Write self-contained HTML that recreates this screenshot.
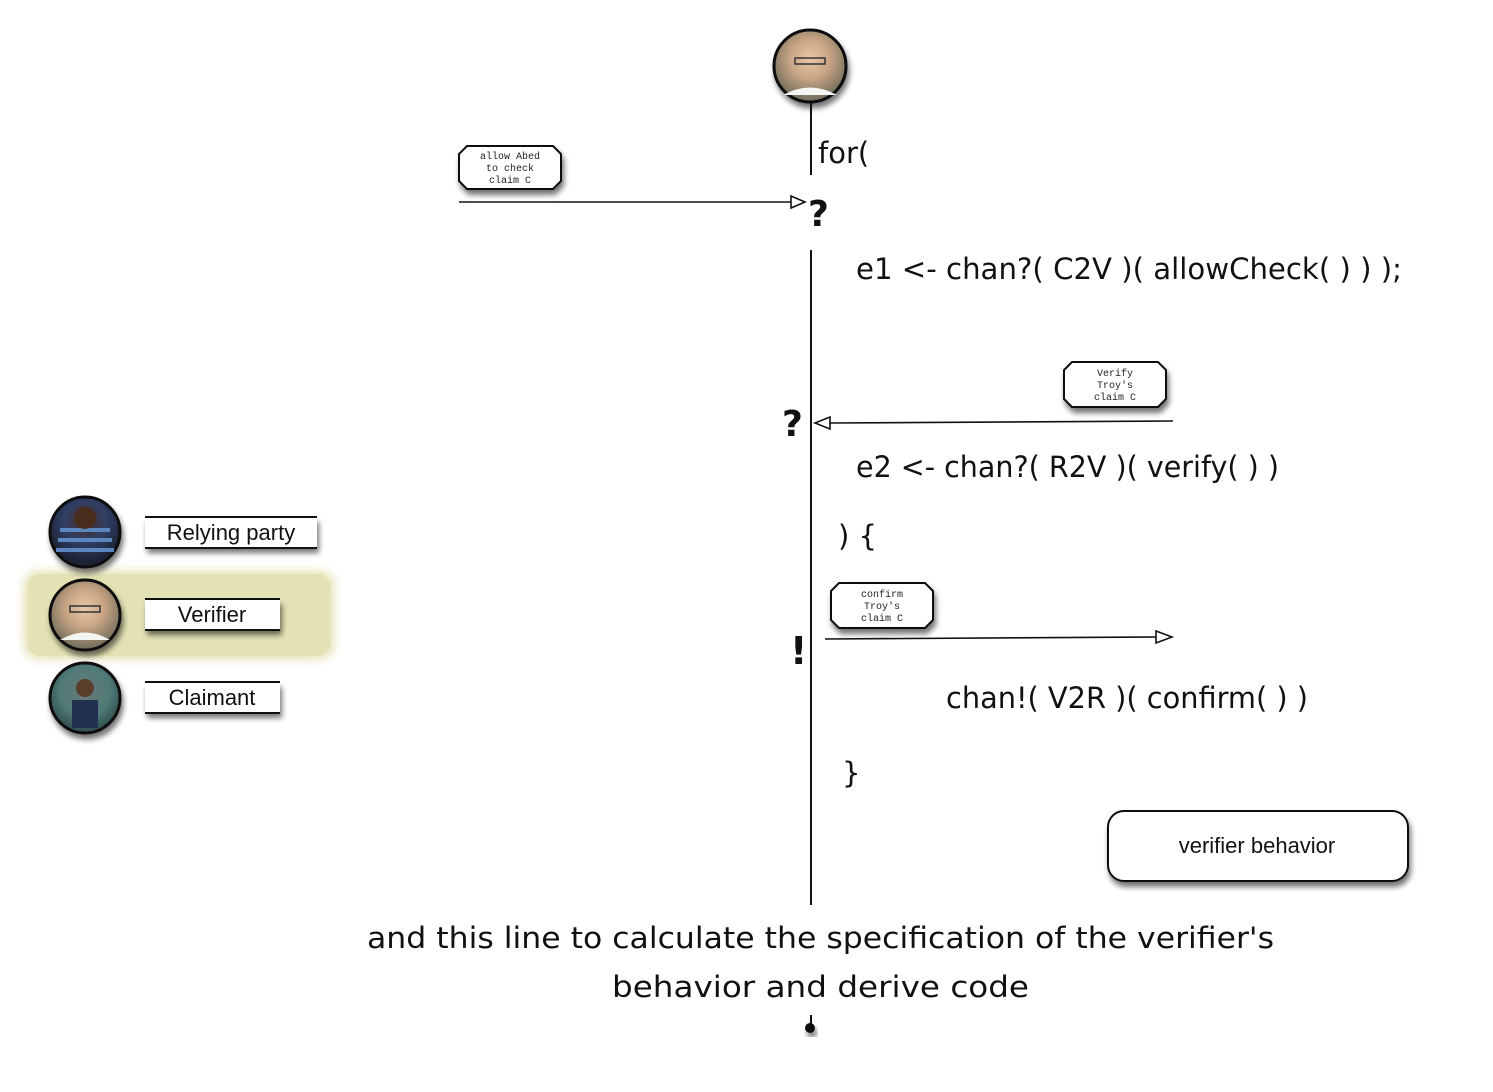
<!DOCTYPE html>
<html><head><meta charset="utf-8">
<style>
html,body{margin:0;padding:0;background:#fff;}
svg{display:block;}
.code{font-family:"DejaVu Sans","Liberation Sans",sans-serif;font-size:29px;fill:#111;}
.mono{font-family:"Liberation Mono",monospace;font-size:10px;fill:#222;}
.lab{font-family:"Liberation Sans",sans-serif;font-size:22px;fill:#111;}
</style></head>
<body>
<svg width="1493" height="1092" viewBox="0 0 1493 1092" xmlns="http://www.w3.org/2000/svg">
<defs>
  <filter id="sh" x="-30%" y="-30%" width="160%" height="170%">
    <feGaussianBlur in="SourceAlpha" stdDeviation="3"/>
    <feOffset dx="2" dy="5" result="o"/>
    <feComponentTransfer><feFuncA type="linear" slope="0.55"/></feComponentTransfer>
    <feMerge><feMergeNode/><feMergeNode in="SourceGraphic"/></feMerge>
  </filter>
  <filter id="blur"><feGaussianBlur stdDeviation="5"/></filter>
  <radialGradient id="face" cx="50%" cy="40%" r="60%">
    <stop offset="0" stop-color="#e8c8a8"/><stop offset="0.45" stop-color="#c9a684"/><stop offset="1" stop-color="#6d6a5a"/>
  </radialGradient>
  <radialGradient id="troy" cx="50%" cy="35%" r="60%">
    <stop offset="0" stop-color="#4a2c20"/><stop offset="0.5" stop-color="#2f3f66"/><stop offset="1" stop-color="#1c2030"/>
  </radialGradient>
  <radialGradient id="abed" cx="50%" cy="40%" r="60%">
    <stop offset="0" stop-color="#6a7a78"/><stop offset="0.6" stop-color="#4f7a78"/><stop offset="1" stop-color="#2f4a4a"/>
  </radialGradient>
</defs>

<!-- legend highlight -->
<rect x="24" y="571" width="310" height="88" rx="14" fill="#e4e2b4" filter="url(#blur)"/>
<rect x="28" y="574" width="302" height="82" rx="12" fill="#e4e2b4"/>

<!-- legend avatars -->
<g filter="url(#sh)">
  <circle cx="85" cy="532" r="35" fill="url(#troy)" stroke="#111" stroke-width="3"/>
  <circle cx="85" cy="615" r="35" fill="url(#face)" stroke="#111" stroke-width="3"/>
  <circle cx="85" cy="698" r="35" fill="url(#abed)" stroke="#111" stroke-width="3"/>
</g>
<!-- simple details -->
<path d="M58 540 h54 M56 550 h58 M60 530 h50" stroke="#5b86c0" stroke-width="4"/>
<circle cx="85" cy="518" r="11" fill="#4a2c1c"/>
<rect x="70" y="606" width="30" height="6" fill="none" stroke="#333" stroke-width="1.5"/>
<path d="M60 640 Q85 625 110 640" fill="#f4f4f0"/>
<rect x="72" y="700" width="26" height="28" fill="#223050"/>
<circle cx="85" cy="688" r="9" fill="#5a3e2c"/>

<!-- legend labels -->
<g filter="url(#sh)">
  <rect x="145" y="517" width="172" height="31" fill="#fff"/>
  <rect x="145" y="599" width="135" height="31" fill="#fff"/>
  <rect x="145" y="682" width="135" height="31" fill="#fff"/>
</g>
<path d="M145 517h172M145 548h172M145 599h135M145 630h135M145 682h135M145 713h135" stroke="#111" stroke-width="2"/>
<text class="lab" x="231" y="540" text-anchor="middle">Relying party</text>
<text class="lab" x="212" y="622" text-anchor="middle">Verifier</text>
<text class="lab" x="212" y="705" text-anchor="middle">Claimant</text>

<!-- top avatar -->
<circle cx="810" cy="66" r="36" fill="url(#face)" stroke="#111" stroke-width="3" filter="url(#sh)"/>
<rect x="795" y="58" width="30" height="6" fill="none" stroke="#333" stroke-width="1.5"/>
<path d="M783 95 Q810 80 837 95" fill="#f4f4f0"/>

<!-- lifeline -->
<path d="M811 102V175M811 250V905M811 1015V1026" stroke="#111" stroke-width="2"/>
<circle cx="810" cy="1028" r="5" fill="#111" filter="url(#sh)"/>

<text class="code" x="818" y="163">for(</text>
<text x="808" y="226" font-family="DejaVu Sans,sans-serif" font-weight="bold" font-size="36" fill="#111">?</text>
<text class="code" x="856" y="279" textLength="546" lengthAdjust="spacingAndGlyphs">e1 &lt;- chan?( C2V )( allowCheck( ) ) );</text>
<text x="782" y="436" font-family="DejaVu Sans,sans-serif" font-weight="bold" font-size="36" fill="#111">?</text>
<text class="code" x="856" y="477" textLength="423" lengthAdjust="spacingAndGlyphs">e2 &lt;- chan?( R2V )( verify( ) )</text>
<text class="code" x="838" y="546">) {</text>
<text x="790" y="664" font-family="DejaVu Sans,sans-serif" font-weight="bold" font-size="38" fill="#111">!</text>
<text class="code" x="946" y="708" textLength="362" lengthAdjust="spacingAndGlyphs">chan!( V2R )( confirm( ) )</text>
<text class="code" x="842" y="783">}</text>

<!-- arrows -->
<path d="M459 202H792" stroke="#111" stroke-width="1.6"/>
<path d="M791 196L805 202L791 208Z" fill="#fff" stroke="#111" stroke-width="1.6"/>
<path d="M1173 421L830 423" stroke="#111" stroke-width="1.6"/>
<path d="M830 417L815 423L830 429Z" fill="#fff" stroke="#111" stroke-width="1.6"/>
<path d="M825 639L1157 637" stroke="#111" stroke-width="1.6"/>
<path d="M1156 631L1172 637L1156 643Z" fill="#fff" stroke="#111" stroke-width="1.6"/>

<!-- octagon notes -->
<g filter="url(#sh)" fill="#fff" stroke="#111" stroke-width="2">
  <path d="M467 146H553L561 154V181L553 189H467L459 181V154Z"/>
  <path d="M1072 362H1158L1166 370V399L1158 407H1072L1064 399V370Z"/>
  <path d="M839 583H925L933 591V620L925 628H839L831 620V591Z"/>
</g>
<g class="mono" text-anchor="middle">
  <text x="510" y="159">allow Abed</text><text x="510" y="171">to check</text><text x="510" y="183">claim C</text>
  <text x="1115" y="376">Verify</text><text x="1115" y="388">Troy's</text><text x="1115" y="400">claim C</text>
  <text x="882" y="597">confirm</text><text x="882" y="609">Troy's</text><text x="882" y="621">claim C</text>
</g>

<!-- verifier behavior box -->
<rect x="1108" y="811" width="300" height="70" rx="16" fill="#fff" stroke="#111" stroke-width="2" filter="url(#sh)"/>
<text x="1257" y="853" text-anchor="middle" font-family="Liberation Sans,sans-serif" font-size="22" fill="#111">verifier behavior</text>

<!-- bottom text -->
<text class="code" x="367" y="948" font-size="34" textLength="907" lengthAdjust="spacingAndGlyphs">and this line to calculate the specification of the verifier's</text>
<text class="code" x="612" y="997" font-size="34" textLength="417" lengthAdjust="spacingAndGlyphs">behavior and derive code</text>
</svg>
</body></html>
